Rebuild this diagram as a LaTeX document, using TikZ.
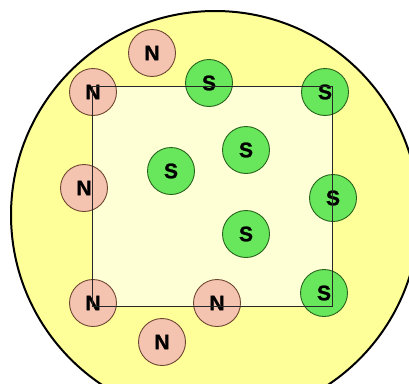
\documentclass[tikz,border=0pt]{standalone}
\usepackage{fontspec}
\setmainfont{Liberation Sans}
\newfontfamily\polefont{Liberation Sans}[BoldFeatures={FakeBold=1.2}]
\definecolor{outerfill}{RGB}{255,255,153}
\definecolor{innerfill}{RGB}{255,255,214}
\definecolor{nfill}{RGB}{245,196,176}
\definecolor{nedge}{RGB}{110,70,50}
\definecolor{sfill}{RGB}{104,230,92}
\definecolor{sedge}{RGB}{40,100,30}
\begin{document}
\begin{tikzpicture}[x=1pt,y=-1pt,
  pole/.style={circle,minimum size=47pt,inner sep=0pt,line width=0.9pt,
    font=\polefont\fontsize{21}{21}\selectfont\bfseries},
  npole/.style={pole,draw=nedge,fill=nfill},
  spole/.style={pole,draw=sedge,fill=sfill},
  frame/.style={draw=black!85,line width=1pt}]
\useasboundingbox (0,0) rectangle (409,383);
\clip (0,0) rectangle (409,383);
% outer disc
\fill[white] (0,0) rectangle (409,383);
\draw[fill=outerfill,line width=2pt] (215,215) circle[radius=204];
% square corners
\coordinate (c1) at (92,86);
\coordinate (c2) at (332,86);
\coordinate (c3) at (332,306);
\coordinate (c4) at (92,306);
\fill[innerfill] (c1) rectangle (c3);
% north poles
\node[npole] (n1) at (152,53) {N};
\node[npole] (n2) at (93,92) {N};
\node[npole] (n3) at (84,188) {N};
\node[npole] (n4) at (93,303) {N};
\node[npole] (n5) at (217,303) {N};
\node[npole] (n6) at (162,342) {N};
% south poles
\node[spole] (s1) at (209,83) {S};
\node[spole] (s2) at (325,92) {S};
\node[spole] (s3) at (171,171) {S};
\node[spole] (s4) at (246,150) {S};
\node[spole] (s5) at (333,198) {S};
\node[spole] (s6) at (246,234) {S};
\node[spole] (s7) at (324,293) {S};
% square outline
\draw[frame] (c1) -- (c2) -- (c3) -- (c4) -- cycle;
\end{tikzpicture}
\end{document}
